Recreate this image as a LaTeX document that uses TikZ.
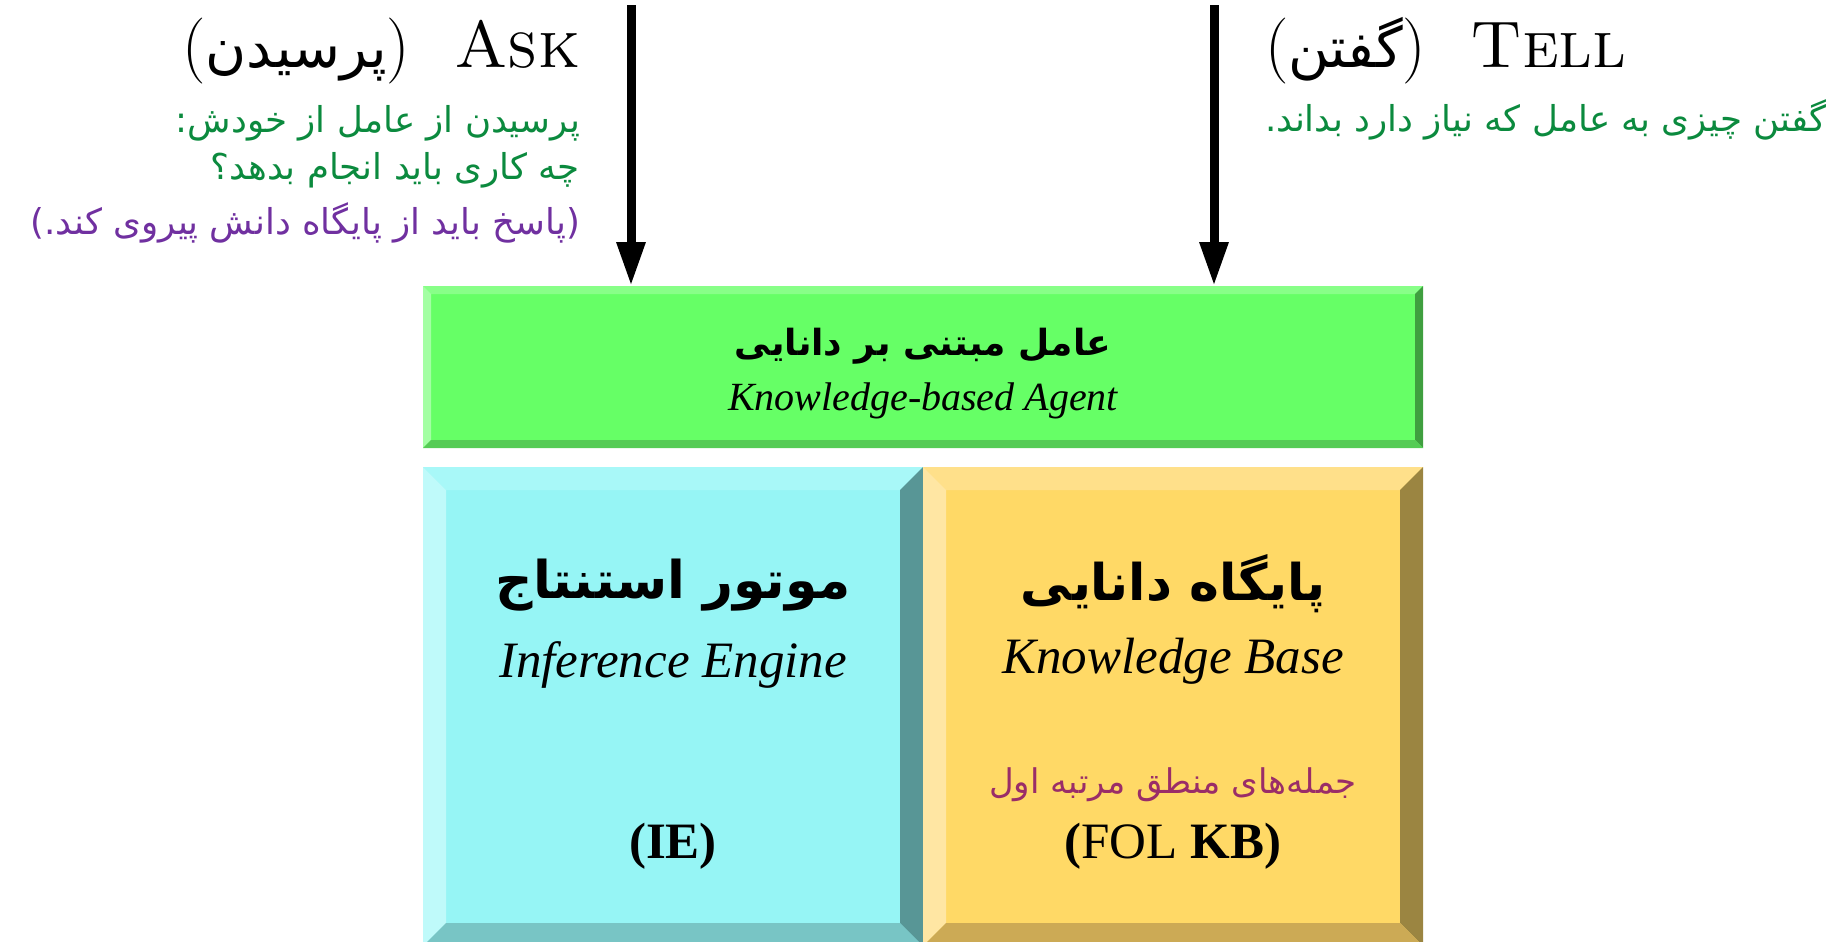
\documentclass[tikz,border=0pt]{standalone}
\usepackage{fontspec}
\usepackage{graphicx}
\usetikzlibrary{arrows.meta,calc}
\TeXXeTstate=1
\newfontfamily\fafont[Script=Arabic]{DejaVu Sans}
\newfontfamily\tms{Liberation Serif}
\newcommand\fsz[1]{\fontsize{#1}{#1}\selectfont}

% bevel colours: face, top, left, right, bottom
\definecolor{agentface}{HTML}{66FF66}
\definecolor{agenttop}{HTML}{88FF88}
\definecolor{agentleft}{HTML}{A3FFA3}
\definecolor{agentright}{HTML}{3F9F3F}
\definecolor{agentbottom}{HTML}{55CC55}
\definecolor{ieface}{HTML}{96F5F5}
\definecolor{ietop}{HTML}{A8F8F8}
\definecolor{ieleft}{HTML}{BFFAFA}
\definecolor{ieright}{HTML}{589696}
\definecolor{iebottom}{HTML}{78C5C5}
\definecolor{kbface}{HTML}{FFD966}
\definecolor{kbtop}{HTML}{FFE08A}
\definecolor{kbleft}{HTML}{FFE6A3}
\definecolor{kbright}{HTML}{9B8541}
\definecolor{kbbottom}{HTML}{CCAA55}
\definecolor{notegreen}{HTML}{0B8A3E}
\definecolor{notepurple}{HTML}{7030A0}
\definecolor{notemagenta}{HTML}{9A2D68}

% #1 node name, #2 bevel depth, #3 colour prefix
\newcommand\bevelbox[3]{%
  \fill[#3face] (#1.north west) rectangle (#1.south east);
  \fill[#3top] (#1.north west) -- (#1.north east) -- ($(#1.north east)+(-#2,#2)$) -- ($(#1.north west)+(#2,#2)$) -- cycle;
  \fill[#3left] (#1.north west) -- ($(#1.north west)+(#2,#2)$) -- ($(#1.south west)+(#2,-#2)$) -- (#1.south west) -- cycle;
  \fill[#3right] (#1.north east) -- (#1.south east) -- ($(#1.south east)+(-#2,-#2)$) -- ($(#1.north east)+(-#2,#2)$) -- cycle;
  \fill[#3bottom] (#1.south west) -- (#1.south east) -- ($(#1.south east)+(-#2,-#2)$) -- ($(#1.south west)+(#2,-#2)$) -- cycle;
}

\tikzset{
  panel/.style={inner sep=0pt, outer sep=0pt, anchor=north west},
  txt/.style={inner sep=0pt, outer sep=0pt, anchor=base},
  feed/.style={line width=4.5pt, -{Triangle[width=13.5pt,length=22pt]}},
}

\begin{document}
\begin{tikzpicture}[x=0.5pt, y=-0.5pt]
\useasboundingbox (0,0) rectangle (1837,942);

% panels
\node[panel, minimum width=500pt, minimum height=81pt] (agent) at (423,286) {};
\node[panel, minimum width=250pt, minimum height=239.5pt] (ie) at (423,467) {};
\node[panel, minimum width=250pt, minimum height=239.5pt] (kb) at (923,467) {};
\bevelbox{agent}{8}{agent}
\bevelbox{ie}{23}{ie}
\bevelbox{kb}{23}{kb}

% agent panel text
\node[txt] (agentfa) at (923,355) {\fafont\bfseries\fsz{18}\beginR عامل مبتنی بر دانایی\endR};
\node[txt] (agenten) at (923,410) {\tms\itshape\fsz{20}Knowledge-based Agent};

% inference engine text
\node[txt] (iefa) at (673,598) {\fafont\bfseries\fsz{26}\beginR موتور استنتاج\endR};
\node[txt] (ieen) at (673,677) {\tms\itshape\fsz{25.5}Inference Engine};
\node[txt] (ieabbr) at (673,858) {\tms\bfseries\fsz{25.5}(IE)};

% knowledge base text
\node[txt] (kbfa) at (1173,600) {\fafont\bfseries\fsz{25.3}\beginR پایگاه دانایی\endR};
\node[txt] (kben) at (1173,673) {\tms\itshape\fsz{25.5}Knowledge Base};
\node[txt, text=notemagenta] (kbnote) at (1173,793) {\fafont\fsz{17}\beginR جمله‌های منطق مرتبه اول\endR};
\node[txt] (kbabbr) at (1173,858) {\tms\fsz{25.5}\textbf{(}FOL \textbf{KB)}};

% ask side
\node[txt, anchor=base east] (askhead) at (580,68)
  {\fsz{33}({\fafont\fsz{28}\beginR پرسیدن\endR})\hspace{22pt}\textsc{Ask}};
\node[txt, anchor=base east, text=notegreen] (ask1) at (580,132) {\fafont\fsz{17.8}\beginR پرسیدن از عامل از خودش:\endR};
\node[txt, anchor=base east, text=notegreen] (ask2) at (580,179) {\fafont\fsz{17.8}\beginR چه کاری باید انجام بدهد؟\endR};
\node[txt, anchor=base east, text=notepurple] (ask3) at (580,234) {\fafont\fsz{17.8}\beginR (پاسخ باید از پایگاه دانش پیروی کند.)\endR};

% tell side
\node[txt, anchor=base west] (tellhead) at (1265,68)
  {\fsz{33}({\fafont\fsz{28}\beginR گفتن\endR})\hspace{22pt}\textsc{Tell}};
\node[txt, anchor=base west, text=notegreen] (tell1) at (1265,131) {\fafont\fsz{17.8}\beginR گفتن چیزی به عامل که نیاز دارد بداند.\endR};

% ask / tell arrows into the agent
\coordinate (askstart) at (631,5);
\coordinate (tellstart) at (1214,5);
\draw[feed] (askstart) -- (askstart |- agent.north);
\draw[feed] (tellstart) -- (tellstart |- agent.north);
\end{tikzpicture}
\end{document}
